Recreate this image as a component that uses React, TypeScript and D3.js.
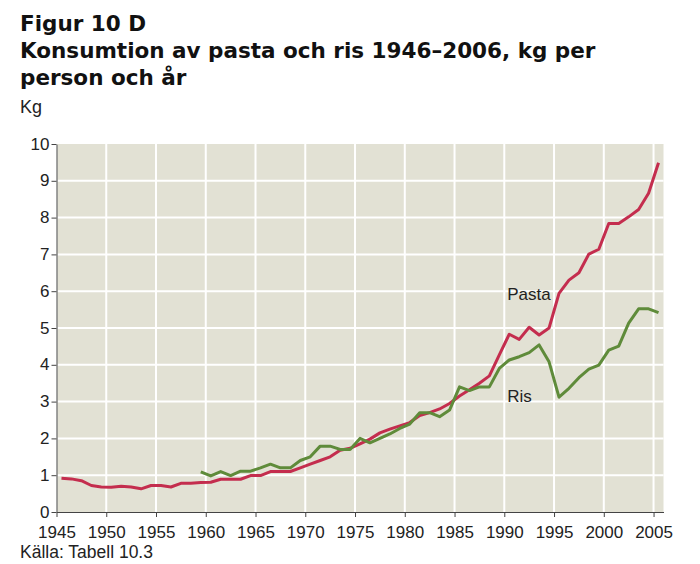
import React, { useEffect, useRef } from 'react';
import * as d3 from 'd3';

// Consumption, kg per person and year
const pastaYears = d3.range(1946, 2007);
const pastaValues = [
  0.92, 0.9, 0.85, 0.72, 0.68, 0.67, 0.7, 0.68, 0.63, 0.72,
  0.72, 0.68, 0.78, 0.78, 0.8, 0.81, 0.89, 0.89, 0.89, 0.99,
  0.99, 1.1, 1.1, 1.1, 1.2, 1.3, 1.4, 1.5, 1.68, 1.73,
  1.85, 1.98, 2.15, 2.25, 2.34, 2.43, 2.62, 2.7, 2.8, 2.95,
  3.15, 3.32, 3.5, 3.7, 4.27, 4.83, 4.69, 5.02, 4.81, 5.0,
  5.94, 6.3, 6.5, 7.01, 7.14, 7.84, 7.84, 8.02, 8.22, 8.66,
  9.49,
];

const risYears = d3.range(1960, 2007);
const risValues = [
  1.09, 0.98, 1.1, 0.99, 1.11, 1.11, 1.2, 1.3, 1.2, 1.2,
  1.4, 1.5, 1.79, 1.79, 1.7, 1.7, 2.0, 1.88, 2.0, 2.12,
  2.27, 2.39, 2.7, 2.7, 2.59, 2.77, 3.4, 3.3, 3.4, 3.4,
  3.9, 4.13, 4.22, 4.33, 4.54, 4.08, 3.12, 3.36, 3.65, 3.88,
  3.99, 4.4, 4.51, 5.13, 5.52, 5.52, 5.42,
];

const xTicks = d3.range(1945, 2006, 5);
const yTicks = d3.range(0, 11, 1);

const titleLines = [
  'Figur 10 D',
  'Konsumtion av pasta och ris 1946–2006, kg per',
  'person och år',
];

const PASTA = '#c42d4e';
const RIS = '#5f8b3a';
const BG = '#e2e1d4';
const FONT = '"Liberation Sans", Arial, sans-serif';
const TITLE_FONT = '"DejaVu Sans", Verdana, sans-serif';

export default function App() {
  const svgRef = useRef<SVGSVGElement>(null);

  useEffect(() => {
    if (!svgRef.current) return;
    const svg = d3.select(svgRef.current);
    svg.selectAll('*').remove();

    const plot = { left: 56.5, right: 663.5, top: 144, bottom: 512 };

    const x = d3.scaleLinear().domain([1945, 2006]).range([plot.left, plot.right]);
    const y = d3.scaleLinear().domain([0, 10]).range([plot.bottom, plot.top]);

    // Title block
    svg.append('g')
      .selectAll('text')
      .data(titleLines)
      .enter()
      .append('text')
      .attr('x', 20)
      .attr('y', (_, i) => 31 + i * 27)
      .attr('font-family', TITLE_FONT)
      .attr('font-weight', 'bold')
      .attr('font-size', 21.5)
      .attr('fill', '#111')
      .text(d => d);

    svg.append('text')
      .attr('x', 20)
      .attr('y', 113)
      .attr('font-family', FONT)
      .attr('font-size', 18)
      .attr('fill', '#222')
      .text('Kg');

    // Plot background
    svg.append('rect')
      .attr('x', plot.left + 1)
      .attr('y', plot.top)
      .attr('width', plot.right - plot.left - 1)
      .attr('height', plot.bottom - plot.top)
      .attr('fill', BG);

    // White grid
    const grid = svg.append('g').attr('stroke', '#fff').attr('stroke-width', 2);
    grid.selectAll('line.h')
      .data(yTicks.filter(t => t > 0 && t < 10))
      .enter()
      .append('line')
      .attr('x1', plot.left + 1)
      .attr('x2', plot.right)
      .attr('y1', d => y(d))
      .attr('y2', d => y(d));
    grid.selectAll('line.v')
      .data(xTicks.filter(t => t > 1945))
      .enter()
      .append('line')
      .attr('x1', d => x(d))
      .attr('x2', d => x(d))
      .attr('y1', plot.top)
      .attr('y2', plot.bottom);

    // Series, each value sits mid-way through its year
    const line = d3.line<[number, number]>()
      .x(d => x(d[0] - 0.5))
      .y(d => y(d[1]));

    const series = [
      { years: pastaYears, values: pastaValues, color: PASTA },
      { years: risYears, values: risValues, color: RIS },
    ];
    series.forEach(s => {
      svg.append('path')
        .datum(s.years.map((yr, i) => [yr, s.values[i]] as [number, number]))
        .attr('d', line)
        .attr('fill', 'none')
        .attr('stroke', s.color)
        .attr('stroke-width', 3)
        .attr('stroke-linejoin', 'round');
    });

    // Series labels
    svg.append('text')
      .attr('x', x(1990.3))
      .attr('y', y(5.75))
      .attr('font-family', FONT)
      .attr('font-size', 17)
      .attr('fill', '#222')
      .text('Pasta');
    svg.append('text')
      .attr('x', x(1990.3))
      .attr('y', y(3.0))
      .attr('font-family', FONT)
      .attr('font-size', 17)
      .attr('fill', '#222')
      .text('Ris');

    // Axes
    const xAxis = svg.append('g')
      .attr('transform', `translate(0,${plot.bottom})`)
      .call(d3.axisBottom(x).tickValues(xTicks).tickFormat(d3.format('d')).tickSize(5).tickSizeOuter(0));
    const yAxis = svg.append('g')
      .attr('transform', `translate(${plot.left},0)`)
      .call(d3.axisLeft(y).tickValues(yTicks).tickSize(5).tickSizeOuter(0));

    [xAxis, yAxis].forEach(ax => {
      ax.select('.domain').attr('stroke', '#444');
      ax.selectAll('.tick line').attr('stroke', '#444');
      ax.selectAll('.tick text')
        .attr('font-family', FONT)
        .attr('font-size', 17)
        .attr('fill', '#222');
    });
    xAxis.selectAll('.tick text').attr('dy', '1.05em');
    yAxis.selectAll('.tick text').attr('x', -7).attr('dy', '0.3em');

    svg.append('text')
      .attr('x', 20)
      .attr('y', 558)
      .attr('font-family', FONT)
      .attr('font-size', 17.5)
      .attr('fill', '#222')
      .text('Källa: Tabell 10.3');
  }, []);

  return (
    <svg
      ref={svgRef}
      width={700}
      height={564}
      style={{ position: 'absolute', left: 0, top: 0, background: '#fff' }}
    />
  );
}
